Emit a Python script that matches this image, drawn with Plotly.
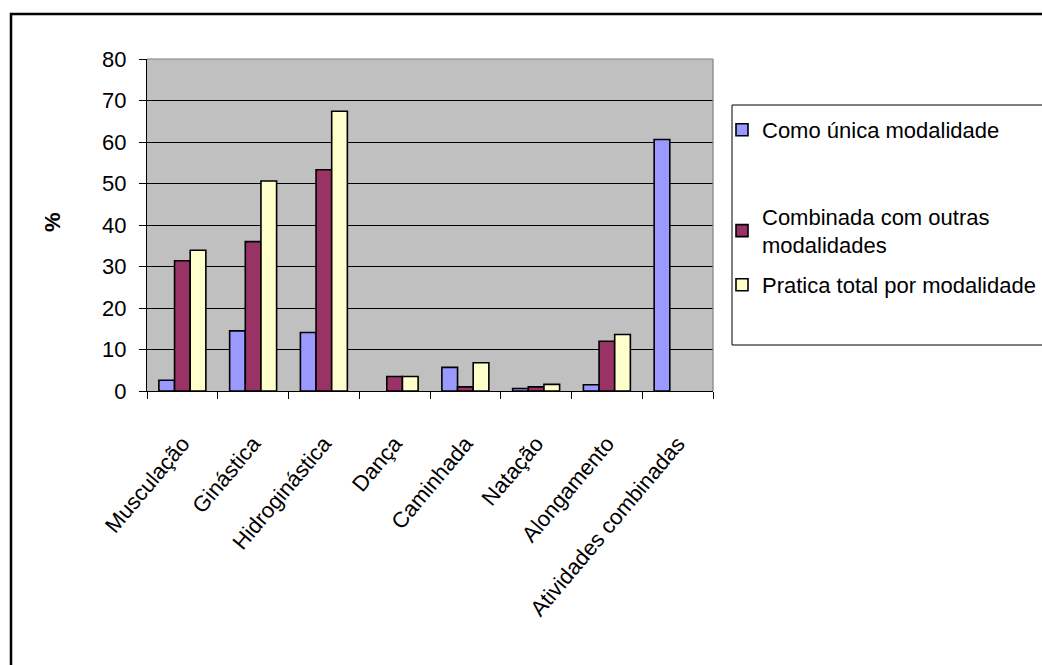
import plotly.graph_objects as go

categories = ["Musculação", "Ginástica", "Hidroginástica", "Dança",
              "Caminhada", "Natação", "Alongamento", "Atividades combinadas"]
como_unica = [2.6, 14.5, 14.1, None, 5.7, 0.6, 1.5, 60.6]
combinada = [31.4, 36.0, 53.3, 3.5, 1.0, 1.0, 12.0, None]
pratica_total = [33.9, 50.6, 67.4, 3.5, 6.8, 1.6, 13.6, None]
y_ticks = [0, 10, 20, 30, 40, 50, 60, 70, 80]

FONT = "Liberation Sans, Arial, sans-serif"
W, H = 1042, 665
L, R, T, B = 147, 713, 59, 391  # plot area edges in pixels


def px_x(p):
    return (p - L) / (R - L)


def px_y(p):
    return (B - p) / (B - T)


series = [
    ("Como única modalidade", como_unica, "#9999FF", "legend"),
    ("Combinada com outras<br>modalidades", combinada, "#993366", "legend2"),
    ("Pratica total por modalidade", pratica_total, "#FFFFCC", "legend3"),
]

fig = go.Figure()
for name, vals, color, lg in series:
    fig.add_trace(go.Bar(
        x=categories, y=vals, name=name, legend=lg, showlegend=True,
        marker=dict(color=color, line=dict(color="black", width=1.6)),
    ))

legend_common = dict(
    xanchor="left", yanchor="middle", bgcolor="rgba(0,0,0,0)",
    borderwidth=0, font=dict(family=FONT, size=22, color="black"),
    itemwidth=30, visible=True,
)

fig.update_layout(
    width=W, height=H,
    margin=dict(l=L, r=W - R, t=T, b=H - B, pad=0, autoexpand=False),
    paper_bgcolor="white",
    plot_bgcolor="#C0C0C0",
    barmode="group",
    bargap=0.336,
    bargroupgap=0,
    showlegend=True,
    font=dict(family=FONT, size=21, color="black"),
    legend=dict(x=px_x(722), y=px_y(130), **legend_common),
    legend2=dict(x=px_x(722), y=px_y(231), **legend_common),
    legend3=dict(x=px_x(722), y=px_y(285), **legend_common),
    xaxis=dict(
        type="category", showgrid=False, showline=True, linecolor="black",
        linewidth=1, ticks="outside", tickson="boundaries", ticklen=7,
        tickcolor="black", tickangle=-50, ticklabelstandoff=30,
        tickfont=dict(family=FONT, size=22, color="black"),
    ),
    yaxis=dict(
        range=[0, 80], tickvals=y_ticks, showgrid=True, gridcolor="black",
        gridwidth=1, zeroline=False, showline=True, linecolor="black",
        linewidth=1, ticks="outside", ticklen=7, tickcolor="black",
        ticklabelstandoff=8,
        tickfont=dict(family=FONT, size=22, color="black"),
    ),
    annotations=[dict(
        text="<b>%</b>", x=px_x(52), y=px_y(222), xref="paper", yref="paper",
        xanchor="center", yanchor="middle",
        showarrow=False, textangle=-90,
        font=dict(family=FONT, size=22, color="black"),
    )],
    shapes=[
        # chart frame
        dict(type="rect", xref="paper", yref="paper", x0=px_x(11), x1=px_x(1070),
             y0=px_y(700), y1=px_y(14), line=dict(color="black", width=2.5)),
        # plot area top and right edges
        dict(type="line", xref="paper", yref="paper", x0=0, x1=1, y0=1, y1=1,
             line=dict(color="#808080", width=1.2), layer="above"),
        dict(type="line", xref="paper", yref="paper", x0=1, x1=1, y0=0, y1=1,
             line=dict(color="#808080", width=1.2), layer="above"),
        # legend frame
        dict(type="rect", xref="paper", yref="paper", x0=px_x(732), x1=px_x(1080),
             y0=px_y(345), y1=px_y(105), line=dict(color="black", width=1)),
    ],
)

fig.write_html("out.html")
